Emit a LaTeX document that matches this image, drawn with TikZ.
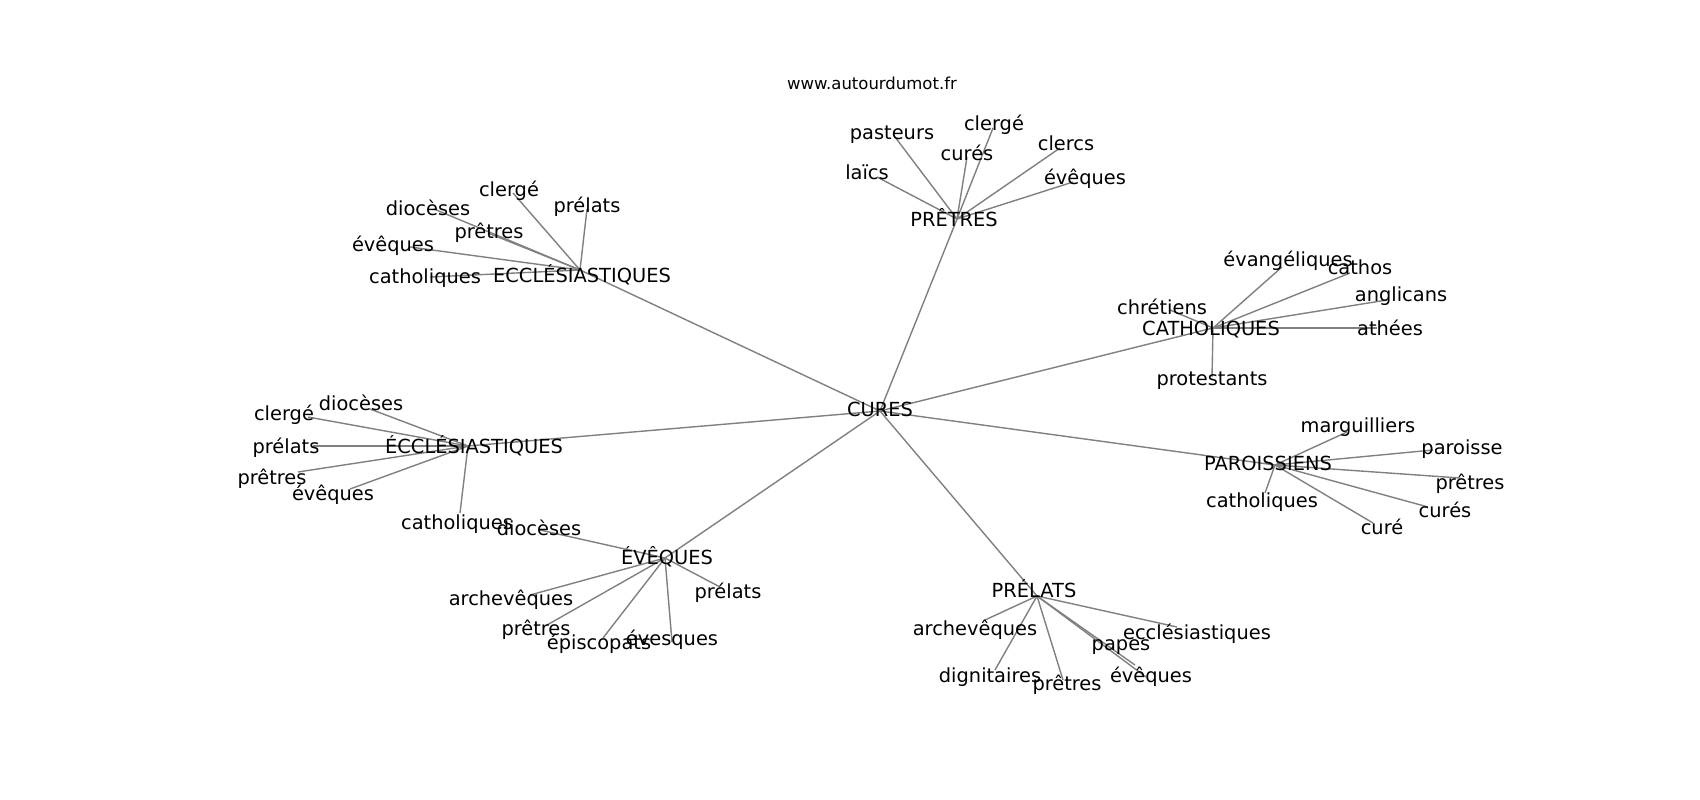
\documentclass[tikz,border=0pt]{standalone}
\usepackage{fontspec}
\setmainfont{DejaVu Sans}
\definecolor{edgegray}{RGB}{128,128,128}
\tikzset{
  lbl/.style={inner sep=0pt, text height=0.76em, text depth=0.24em, anchor=center, yshift=-5pt, font=\fontsize{19.4}{23}\selectfont},
  small/.style={inner sep=0pt, text height=0.76em, text depth=0.24em, anchor=center, yshift=-4pt, font=\fontsize{16.5}{20}\selectfont},
  edge/.style={draw=edgegray, line width=1.4pt},
}
\begin{document}
\begin{tikzpicture}[x=1pt,y=-1pt]
\useasboundingbox[fill=white] (0,0) rectangle (1700,800);

% ---- edge points ----
\coordinate (c0) at (880,411);
\coordinate (a0) at (580,270);
\coordinate (b0) at (957,219);
\coordinate (cc0) at (1213,328);
\coordinate (d0) at (1275,465);
\coordinate (e0) at (468,446);
\coordinate (f0) at (665,558);
\coordinate (g0) at (1037,596);

\coordinate (a1) at (513,193);
\coordinate (a2) at (434,209);
\coordinate (a3) at (587,209);
\coordinate (a4) at (488,233);
\coordinate (a5) at (410,247);
\coordinate (a6) at (430,277);

\coordinate (b1) at (895,137);
\coordinate (b2) at (993,128);
\coordinate (b3) at (967,157);
\coordinate (b4) at (1060,148);
\coordinate (b5) at (877,177);
\coordinate (b6) at (1073,182);

\coordinate (cc1) at (1282,267);
\coordinate (cc2) at (1350,273);
\coordinate (cc3) at (1387,300);
\coordinate (cc4) at (1170,310);
\coordinate (cc5) at (1377,328);
\coordinate (cc6) at (1212,377);

\coordinate (d1) at (1347,432);
\coordinate (d2) at (1433,450);
\coordinate (d3) at (1460,478);
\coordinate (d4) at (1265,493);
\coordinate (d5) at (1428,507);
\coordinate (d6) at (1373,523);

\coordinate (e1) at (370,409);
\coordinate (e2) at (308,417);
\coordinate (e3) at (313,446);
\coordinate (e4) at (298,472);
\coordinate (e5) at (350,489);
\coordinate (e6) at (460,513);

\coordinate (f1) at (540,530);
\coordinate (f2) at (530,595);
\coordinate (f3) at (720,587);
\coordinate (f4) at (547,625);
\coordinate (f5) at (603,638);
\coordinate (f6) at (672,642);

\coordinate (g1) at (985,620);
\coordinate (g2) at (1177,627);
\coordinate (g3) at (1135,665);
\coordinate (g4) at (995,670);
\coordinate (g5) at (1063,680);
\coordinate (g6) at (1146,677);

% ---- edges ----
\foreach \h in {a0,b0,cc0,d0,e0,f0,g0} \draw[edge] (c0) -- (\h);
\foreach \i in {1,...,6} {
  \draw[edge] (a0) -- (a\i);
  \draw[edge] (b0) -- (b\i);
  \draw[edge] (cc0) -- (cc\i);
  \draw[edge] (d0) -- (d\i);
  \draw[edge] (e0) -- (e\i);
  \draw[edge] (f0) -- (f\i);
  \draw[edge] (g0) -- (g\i);
}

% ---- labels ----
\node[small] (site) at (872,83) {www.autourdumot.fr};

\node[lbl] (cures) at (880,409) {CURES};

\node[lbl] (A) at (582,275) {ECCLÉSIASTIQUES};
\node[lbl] (A1) at (509,189) {clergé};
\node[lbl] (A2) at (428,208) {diocèses};
\node[lbl] (A3) at (587,205) {prélats};
\node[lbl] (A4) at (489,231) {prêtres};
\node[lbl] (A5) at (393,244) {évêques};
\node[lbl] (A6) at (425,276) {catholiques};

\node[lbl] (B) at (954,219) {PRÊTRES};
\node[lbl] (B1) at (892,132) {pasteurs};
\node[lbl] (B2) at (994,123) {clergé};
\node[lbl] (B3) at (967,153) {curés};
\node[lbl] (B4) at (1066,143) {clercs};
\node[lbl] (B5) at (867,172) {laïcs};
\node[lbl] (B6) at (1085,177) {évêques};

\node[lbl] (C) at (1211,328) {CATHOLIQUES};
\node[lbl] (C1) at (1288,259) {évangéliques};
\node[lbl] (C2) at (1360,267) {cathos};
\node[lbl] (C3) at (1401,294) {anglicans};
\node[lbl] (C4) at (1162,307) {chrétiens};
\node[lbl] (C5) at (1390,328) {athées};
\node[lbl] (C6) at (1212,378) {protestants};

\node[lbl] (D) at (1268,463) {PAROISSIENS};
\node[lbl] (D1) at (1358,425) {marguilliers};
\node[lbl] (D2) at (1462,447) {paroisse};
\node[lbl] (D3) at (1470,482) {prêtres};
\node[lbl] (D4) at (1262,500) {catholiques};
\node[lbl] (D5) at (1445,510) {curés};
\node[lbl] (D6) at (1382,527) {curé};

\node[lbl] (E) at (474,446) {ÉCCLÉSIASTIQUES};
\node[lbl] (E1) at (361,403) {diocèses};
\node[lbl] (E2) at (284,413) {clergé};
\node[lbl] (E3) at (286,446) {prélats};
\node[lbl] (E4) at (272,477) {prêtres};
\node[lbl] (E5) at (333,493) {évêques};
\node[lbl] (E6) at (457,522) {catholiques};

\node[lbl] (F) at (667,557) {ÉVÊQUES};
\node[lbl] (F1) at (539,528) {diocèses};
\node[lbl] (F2) at (511,598) {archevêques};
\node[lbl] (F3) at (728,591) {prélats};
\node[lbl] (F4) at (536,628) {prêtres};
\node[lbl] (F5) at (599,642) {épiscopats};
\node[lbl] (F6) at (672,638) {évesques};

\node[lbl] (G) at (1034,590) {PRÉLATS};
\node[lbl] (G1) at (975,628) {archevêques};
\node[lbl] (G2) at (1197,632) {ecclésiastiques};
\node[lbl] (G3) at (1121,643) {papes};
\node[lbl] (G4) at (990,675) {dignitaires};
\node[lbl] (G5) at (1067,683) {prêtres};
\node[lbl] (G6) at (1151,675) {évêques};
\end{tikzpicture}
\end{document}
